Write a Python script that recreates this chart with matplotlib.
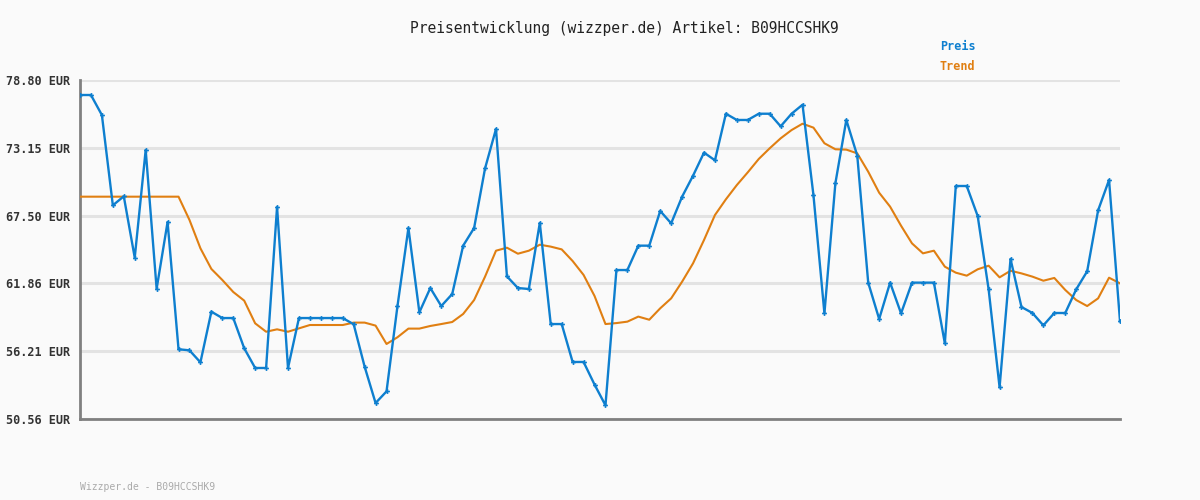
import numpy as np
import matplotlib
matplotlib.use("Agg")
import matplotlib.pyplot as plt

# price history
preis = [77.55, 77.55, 75.88, 68.36, 69.11, 64.00, 72.97, 61.41, 66.97, 56.37,
         56.28, 55.28, 59.50, 58.97, 58.97, 56.45, 54.81, 54.81, 68.22, 54.81,
         58.97, 58.97, 58.97, 58.97, 58.97, 58.45, 54.92, 51.89, 52.86, 59.97,
         66.47, 59.45, 61.47, 59.97, 60.97, 65.00, 66.47, 71.44, 74.72, 62.44,
         61.47, 61.39, 66.89, 58.47, 58.47, 55.31, 55.31, 53.43, 51.70, 62.97,
         62.97, 65.00, 65.00, 67.89, 66.86, 69.08, 70.83, 72.75, 72.11, 75.99,
         75.47, 75.47, 75.99, 75.99, 74.94, 75.99, 76.74, 69.19, 59.36, 70.19,
         75.47, 72.50, 61.92, 58.89, 61.92, 59.36, 61.92, 61.92, 61.92, 56.86,
         69.97, 69.97, 67.47, 61.36, 53.20, 63.89, 59.89, 59.39, 58.36, 59.39,
         59.39, 61.36, 62.86, 67.94, 70.47, 58.70]

trend = [69.08, 69.08, 69.08, 69.08, 69.08, 69.08, 69.08, 69.08, 69.08, 69.08,
         67.14, 64.78, 63.06, 62.14, 61.14, 60.42, 58.53, 57.83, 58.03, 57.83,
         58.11, 58.39, 58.39, 58.39, 58.39, 58.59, 58.59, 58.34, 56.81, 57.37,
         58.09, 58.09, 58.31, 58.47, 58.64, 59.31, 60.47, 62.42, 64.58, 64.83,
         64.33, 64.58, 65.08, 64.92, 64.69, 63.72, 62.56, 60.81, 58.47, 58.55,
         58.67, 59.09, 58.83, 59.78, 60.61, 62.00, 63.53, 65.47, 67.55, 68.86,
         70.05, 71.11, 72.22, 73.11, 73.94, 74.63, 75.16, 74.83, 73.53, 73.03,
         73.00, 72.69, 71.16, 69.41, 68.25, 66.66, 65.19, 64.36, 64.58, 63.25,
         62.75, 62.50, 63.03, 63.33, 62.36, 62.91, 62.69, 62.42, 62.08, 62.31,
         61.31, 60.47, 59.97, 60.61, 62.33, 61.86]

y_ticks = [50.56, 56.21, 61.86, 67.50, 73.15, 78.80]

blue = "#0e7fcf"
orange = "#e07f12"
bg = "#fafafa"

fig = plt.figure(figsize=(12, 5), dpi=100, facecolor=bg)
ax = fig.add_axes([80 / 1200, 1 - 419 / 500, 1040 / 1200, 339 / 500])
ax.set_facecolor(bg)

x = np.arange(len(preis))
ax.plot(x, trend, color=orange, lw=1.5, zorder=3)
ax.plot(x, preis, color=blue, lw=1.7, marker="P", markersize=3.5,
        markeredgewidth=0, zorder=4)

ax.set_xlim(0, len(preis) - 1)
ax.set_ylim(y_ticks[0], y_ticks[-1])
ax.set_yticks(y_ticks)
ax.set_yticklabels([f"{v:.2f} EUR" for v in y_ticks],
                   family="DejaVu Sans Mono", fontweight="bold", fontsize=8.5, color="#333333")
ax.set_xticks([])
ax.tick_params(axis="y", length=0, pad=7)
ax.grid(axis="y", color="#e3e3e3", lw=2.2, zorder=0)

for s in ["top", "right"]:
    ax.spines[s].set_visible(False)
for s in ["left", "bottom"]:
    ax.spines[s].set_color("#808080")
    ax.spines[s].set_linewidth(2)

fig.text(624 / 1200, 1 - 28 / 500, "Preisentwicklung (wizzper.de) Artikel: B09HCCSHK9",
         family="DejaVu Sans Mono", fontsize=10.5, color="#222222", ha="center", va="center")
fig.text(940 / 1200, 1 - 47 / 500, "Preis", family="DejaVu Sans Mono", fontweight="bold",
         fontsize=8.5, color=blue, ha="left", va="center")
fig.text(940 / 1200, 1 - 67 / 500, "Trend", family="DejaVu Sans Mono", fontweight="bold",
         fontsize=8.5, color=orange, ha="left", va="center")
fig.text(80 / 1200, 1 - 487 / 500, "Wizzper.de - B09HCCSHK9", family="DejaVu Sans Mono",
         fontsize=7, color="#aaaaaa", ha="left", va="center")

fig.savefig("out.png", dpi=100, facecolor=bg)
